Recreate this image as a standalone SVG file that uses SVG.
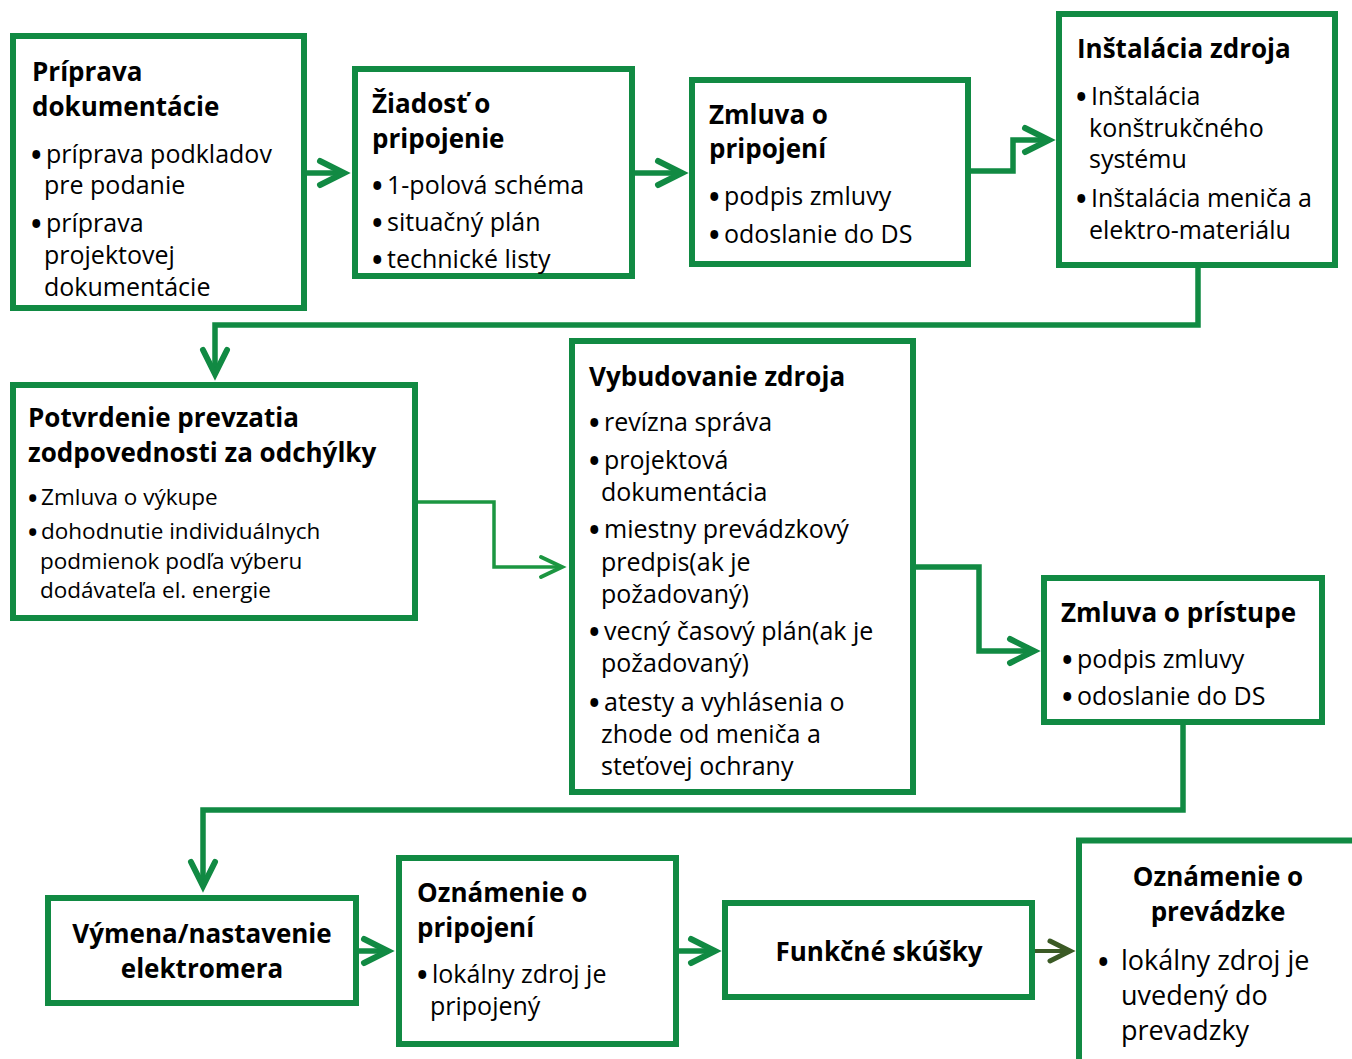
<svg xmlns="http://www.w3.org/2000/svg" width="1352" height="1059" viewBox="0 0 1352 1059">
<style>
.box{fill:#fff;stroke:#118a43;stroke-width:6}
.t{font-family:"Open Sans","Noto Sans",sans-serif;font-weight:700;font-size:26px;fill:#000}
.b{font-family:"Open Sans","Noto Sans",sans-serif;font-size:25px;fill:#000}
.bs{font-family:"Open Sans","Noto Sans",sans-serif;font-size:22.5px;fill:#000}
.bl{font-family:"Open Sans","Noto Sans",sans-serif;font-size:27px;fill:#000}
.bu{font-size:28px;font-weight:700}
.bus{font-size:25px;font-weight:700}
.c{fill:none;stroke:#118a43;stroke-width:5.5}
.cthin{fill:none;stroke:#1c9641;stroke-width:3.5}
.colive{fill:none;stroke:#3b5a25;stroke-width:4}
</style>
<defs>
<marker id="ah" markerUnits="userSpaceOnUse" viewBox="-30 -16 34 32" refX="0" refY="0" markerWidth="34" markerHeight="32" orient="auto" overflow="visible">
<path d="M-24,-12 L0,0 L-24,12" fill="none" stroke="#118a43" stroke-width="6" stroke-linecap="round" stroke-linejoin="miter"/>
</marker>
<marker id="ahthin" markerUnits="userSpaceOnUse" viewBox="-30 -16 34 32" refX="0" refY="0" markerWidth="34" markerHeight="32" orient="auto" overflow="visible">
<path d="M-21,-10 L0,0 L-21,10" fill="none" stroke="#1c9641" stroke-width="4" stroke-linecap="round"/>
</marker>
<marker id="aholive" markerUnits="userSpaceOnUse" viewBox="-30 -16 34 32" refX="0" refY="0" markerWidth="34" markerHeight="32" orient="auto" overflow="visible">
<path d="M-20,-10 L0,0 L-20,10" fill="none" stroke="#3b5a25" stroke-width="5" stroke-linecap="round"/>
</marker>
</defs>
<rect width="1352" height="1059" fill="#fff"/>
<g id="connectors">
<path class="c" d="M304,173 H344" marker-end="url(#ah)"/>
<path class="c" d="M632,173 H682" marker-end="url(#ah)"/>
<path class="c" d="M968,171 H1013 V140 H1049" marker-end="url(#ah)"/>
<path class="c" d="M1198,265 V325 H215 V374" marker-end="url(#ah)"/>
<path class="cthin" d="M415,502 H494 V567 H562" marker-end="url(#ahthin)"/>
<path class="c" d="M913,567 H979 V651 H1034" marker-end="url(#ah)"/>
<path class="c" d="M1183,722 V810 H203 V886" marker-end="url(#ah)"/>
<path class="c" d="M356,951 H388" marker-end="url(#ah)"/>
<path class="c" d="M676,951 H715" marker-end="url(#ah)"/>
<path class="colive" d="M1032,951 H1070" marker-end="url(#aholive)"/>
</g>
<g id="n1">
<rect class="box" x="13" y="36" width="291" height="272"/>
<text class="t"><tspan x="32" y="81">Príprava</tspan><tspan x="32" y="116">dokumentácie</tspan></text>
<text class="b"><tspan class="bu" x="31" y="165">•</tspan><tspan x="46" y="163">príprava podkladov</tspan><tspan x="44" y="194">pre podanie</tspan><tspan class="bu" x="31" y="234">•</tspan><tspan x="46" y="232">príprava</tspan><tspan x="44" y="264">projektovej</tspan><tspan x="44" y="296">dokumentácie</tspan></text>
</g>
<g id="n2">
<rect class="box" x="355" y="69" width="277" height="207"/>
<text class="t"><tspan x="372" y="113">Žiadosť o</tspan><tspan x="372" y="148">pripojenie</tspan></text>
<text class="b"><tspan class="bu" x="372" y="196">•</tspan><tspan x="387" y="194">1-polová schéma</tspan><tspan class="bu" x="372" y="233">•</tspan><tspan x="387" y="231">situačný plán</tspan><tspan class="bu" x="372" y="270">•</tspan><tspan x="387" y="268">technické listy</tspan></text>
</g>
<g id="n3">
<rect class="box" x="692" y="80" width="276" height="184"/>
<text class="t"><tspan x="709" y="124">Zmluva o</tspan><tspan x="709" y="158">pripojení</tspan></text>
<text class="b"><tspan class="bu" x="709" y="207">•</tspan><tspan x="724" y="205">podpis zmluvy</tspan><tspan class="bu" x="709" y="245">•</tspan><tspan x="724" y="243">odoslanie do DS</tspan></text>
</g>
<g id="n4">
<rect class="box" x="1059" y="14" width="276" height="251"/>
<text class="t"><tspan x="1077" y="58">Inštalácia zdroja</tspan></text>
<text class="b"><tspan class="bu" x="1076" y="107">•</tspan><tspan x="1091" y="105">Inštalácia</tspan><tspan x="1089" y="137">konštrukčného</tspan><tspan x="1089" y="168">systému</tspan><tspan class="bu" x="1076" y="209">•</tspan><tspan x="1091" y="207">Inštalácia meniča a</tspan><tspan x="1089" y="239">elektro-materiálu</tspan></text>
</g>
<g id="n5">
<rect class="box" x="13" y="385" width="402" height="233"/>
<text class="t"><tspan x="28" y="427">Potvrdenie prevzatia</tspan><tspan x="28" y="462">zodpovednosti za odchýlky</tspan></text>
<text class="bs"><tspan class="bus" x="28" y="507">•</tspan><tspan x="41" y="505">Zmluva o výkupe</tspan><tspan class="bus" x="28" y="541">•</tspan><tspan x="41" y="539">dohodnutie individuálnych</tspan><tspan x="40" y="569">podmienok podľa výberu</tspan><tspan x="40" y="598">dodávateľa el. energie</tspan></text>
</g>
<g id="n6">
<rect class="box" x="572" y="341" width="341" height="451"/>
<text class="t"><tspan x="589" y="386">Vybudovanie zdroja</tspan></text>
<text class="b"><tspan class="bu" x="589" y="433">•</tspan><tspan x="604" y="431">revízna správa</tspan><tspan class="bu" x="589" y="471">•</tspan><tspan x="604" y="469">projektová</tspan><tspan x="601" y="501">dokumentácia</tspan><tspan class="bu" x="589" y="540">•</tspan><tspan x="604" y="538">miestny prevádzkový</tspan><tspan x="601" y="571">predpis(ak je</tspan><tspan x="601" y="603">požadovaný)</tspan><tspan class="bu" x="589" y="642">•</tspan><tspan x="604" y="640">vecný časový plán(ak je</tspan><tspan x="601" y="672">požadovaný)</tspan><tspan class="bu" x="589" y="713">•</tspan><tspan x="604" y="711">atesty a vyhlásenia o</tspan><tspan x="601" y="743">zhode od meniča a</tspan><tspan x="601" y="775">steťovej ochrany</tspan></text>
</g>
<g id="n7">
<rect class="box" x="1044" y="578" width="278" height="144"/>
<text class="t"><tspan x="1061" y="622">Zmluva o prístupe</tspan></text>
<text class="b"><tspan class="bu" x="1062" y="670">•</tspan><tspan x="1077" y="668">podpis zmluvy</tspan><tspan class="bu" x="1062" y="707">•</tspan><tspan x="1077" y="705">odoslanie do DS</tspan></text>
</g>
<g id="n8">
<rect class="box" x="48" y="898" width="308" height="105"/>
<text class="t" text-anchor="middle"><tspan x="202" y="943">Výmena/nastavenie</tspan><tspan x="202" y="978">elektromera</tspan></text>
</g>
<g id="n9">
<rect class="box" x="399" y="858" width="277" height="186"/>
<text class="t"><tspan x="417" y="902">Oznámenie o</tspan><tspan x="417" y="937">pripojení</tspan></text>
<text class="b"><tspan class="bu" x="417" y="985">•</tspan><tspan x="432" y="983">lokálny zdroj je</tspan><tspan x="430" y="1015">pripojený</tspan></text>
</g>
<g id="n10">
<rect class="box" x="725" y="903" width="307" height="94"/>
<text class="t" text-anchor="middle"><tspan x="879" y="961">Funkčné skúšky</tspan></text>
</g>
<g id="n11">
<rect class="box" x="1079" y="840.5" width="300" height="300"/>
<text class="t" text-anchor="middle"><tspan x="1218" y="886">Oznámenie o</tspan><tspan x="1218" y="921">prevádzke</tspan></text>
<text class="bl"><tspan class="bu" x="1098" y="972">•</tspan><tspan x="1121" y="970">lokálny zdroj je</tspan><tspan x="1121" y="1005">uvedený do</tspan><tspan x="1121" y="1040">prevadzky</tspan></text>
</g>
</svg>
